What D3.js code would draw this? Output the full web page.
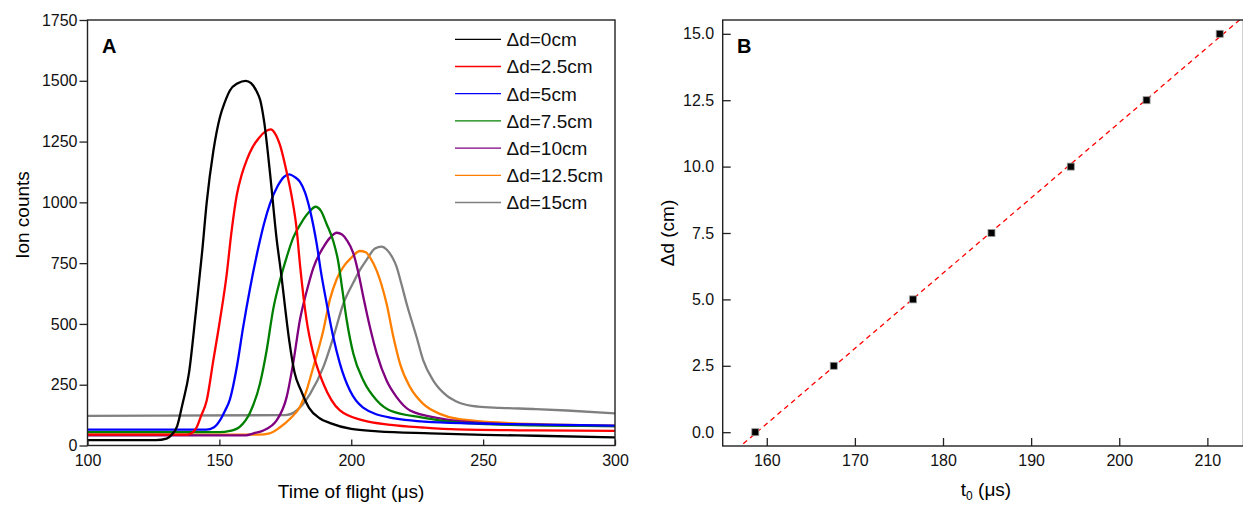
<!DOCTYPE html>
<html>
<head>
<meta charset="utf-8">
<script src="https://cdn.jsdelivr.net/npm/d3@7"></script>
<style>
  body { margin: 0; background: #fff; }
  svg { display: block; font-family: "Liberation Sans", Arial, sans-serif; }
  .tick text { fill: #111; }
</style>
</head>
<body>
<svg id="chart"></svg>
<script>
// chart window size
const width = 1243;
const height = 507;

// panel A: ion counts vs time of flight, one [t (us), counts] list per spacing
const seriesLabels = ['Δd=0cm', 'Δd=2.5cm', 'Δd=5cm', 'Δd=7.5cm', 'Δd=10cm', 'Δd=12.5cm', 'Δd=15cm'];
const seriesColors = ['#000000', '#ff0000', '#0000ff', '#008000', '#800080', '#ff8000', '#808080'];

const tof0 = [[100,22],[126,22],[130,28],[132,45],[134,80],[136,170],[138.5,300],[141,540],[143.5,800],[145.2,1000],[147.7,1210],[150.2,1350],[152,1410],[154,1460],[157,1490],[160,1500],[162,1490],[164.2,1455],[165.5,1420],[167,1330],[169.2,1120],[171.7,850],[173.5,700],[175,560],[176.5,430],[178.5,300],[181,225],[184,155],[188,112],[192,92],[200,68],[210,58],[230,50],[250,44],[270,40],[300,33]];
const tof25 = [[100,45],[138,45],[140,55],[141.4,75],[143,120],[145.2,185],[147.7,350],[150.2,514],[152.8,706],[154.5,870],[156.6,1030],[158.5,1115],[160.4,1175],[162.5,1225],[165,1265],[167.5,1292],[169.5,1300],[171,1285],[173,1235],[175.5,1125],[177.5,1020],[179.3,890],[180.6,740],[183,520],[185.6,378],[189.4,255],[195.7,144],[204.5,103],[215,85],[227,74],[240,66],[270,62],[300,60]];
const tof5 = [[100,65],[145,65],[148,75],[150.2,103],[152,140],[154,190],[156.6,322],[159,486],[161.6,645],[164.8,815],[167,915],[169.2,995],[172,1065],[174.5,1105],[176.5,1115],[178.5,1105],[180.5,1085],[182.5,1040],[184.4,966],[186.9,829],[188.5,715],[190.7,583],[193.2,445],[195.7,337],[199.5,226],[204.5,156],[214.7,115],[233.6,95],[260,88],[300,82]];
const tof75 = [[100,55],[150,55],[154,60],[157.8,78],[161.6,135],[165.4,255],[167.9,390],[170.4,560],[173,680],[175.5,774],[178,855],[181,915],[184,960],[186.5,982],[188.5,965],[190.7,910],[193.2,840],[195,760],[196.5,650],[198.3,514],[200.8,377],[204.6,267],[209.7,185],[214.7,144],[227,115],[240,95],[260,85],[300,80]];
const tof10 = [[100,42],[160,42],[163,50],[166.7,62],[171.7,103],[175.5,199],[178,340],[180.6,520],[183,630],[185.6,730],[189.4,815],[192,855],[194.5,875],[196.5,868],[198.3,845],[200.8,790],[202.5,720],[204.6,610],[207.1,486],[209.7,377],[213.4,267],[217.2,199],[222.3,144],[233.6,112],[250,92],[270,85],[300,80]];
const tof125 = [[100,45],[165,45],[169,50],[173,75],[176.8,110],[180.6,160],[183,225],[185.6,322],[189.4,473],[191.9,600],[194.5,685],[197,735],[200,772],[203.3,800],[205.5,795],[207.1,774],[209.6,720],[211.5,660],[213.4,583],[216,445],[218.5,336],[222.3,240],[227.3,171],[233.6,130],[240,110],[260,92],[300,82]];
const tof15 = [[100,122],[175,125],[179.3,144],[184.4,212],[189.4,322],[193.2,445],[197,583],[200.8,670],[203.3,722],[205.9,765],[209,810],[211.5,818],[213.5,805],[215.5,775],[217.2,735],[219,665],[221,583],[224.8,445],[227.3,350],[231.1,267],[236.2,205],[241.2,175],[248,160],[256.4,155],[270,150],[281.7,144],[300,132]];
const tofSeries = [tof0, tof25, tof5, tof75, tof10, tof125, tof15];

const tofTicks = [100, 150, 200, 250, 300];
const countTicks = [0, 250, 500, 750, 1000, 1250, 1500, 1750];

// panel B: peak arrival time t0 for every spacing
const deltaD = [0, 2.5, 5, 7.5, 10, 12.5, 15];
const t0Values = [158.7, 167.6, 176.6, 185.5, 194.5, 203.1, 211.4];
const t0Ticks = [160, 170, 180, 190, 200, 210];
const deltaTicks = [0, 2.5, 5, 7.5, 10, 12.5, 15];

const svg = d3.select('#chart')
  .attr('width', width)
  .attr('height', height);

// ---------- panel A ----------
const xA = d3.scaleLinear().domain([100, 300]).range([87.5, 615]);
const yA = d3.scaleLinear().domain([0, 1750]).range([445.5, 20]);

svg.append('clipPath').attr('id', 'clipA')
  .append('rect')
  .attr('x', xA.range()[0]).attr('y', yA.range()[1])
  .attr('width', xA.range()[1] - xA.range()[0])
  .attr('height', yA.range()[0] - yA.range()[1]);

const lineA = d3.line()
  .x(d => xA(d[0]))
  .y(d => yA(d[1]))
  .curve(d3.curveMonotoneX);

// last series drawn first, so the black trace stays on top
const gLines = svg.append('g').attr('clip-path', 'url(#clipA)');
for (let i = tofSeries.length - 1; i >= 0; i--) {
  gLines.append('path')
    .datum(tofSeries[i])
    .attr('d', lineA)
    .attr('fill', 'none')
    .attr('stroke', seriesColors[i])
    .attr('stroke-width', 2.3)
    .attr('stroke-linejoin', 'round');
}

svg.append('g')
  .attr('transform', `translate(0,${yA.range()[0]})`)
  .call(d3.axisBottom(xA).tickValues(tofTicks).tickSize(-6).tickPadding(9))
  .call(g => g.select('.domain').remove())
  .call(g => g.selectAll('text').attr('font-size', 16))
  .call(g => g.selectAll('line').attr('stroke', '#222').attr('stroke-width', 1.3));

svg.append('g')
  .attr('transform', `translate(${xA.range()[0]},0)`)
  .call(d3.axisLeft(yA).tickValues(countTicks).tickFormat(d3.format('d')).tickSize(8).tickPadding(2))
  .call(g => g.select('.domain').remove())
  .call(g => g.selectAll('text').attr('font-size', 16))
  .call(g => g.selectAll('line').attr('stroke', '#222').attr('stroke-width', 1.3));

svg.append('rect')
  .attr('x', xA.range()[0]).attr('y', yA.range()[1])
  .attr('width', xA.range()[1] - xA.range()[0])
  .attr('height', yA.range()[0] - yA.range()[1])
  .attr('fill', 'none')
  .attr('stroke', '#222')
  .attr('stroke-width', 1.4);

// legend, top right of panel A
const legend = svg.append('g');
seriesLabels.forEach((label, i) => {
  const y = 39.3 + i * 27.2;
  legend.append('line')
    .attr('x1', 455).attr('x2', 501)
    .attr('y1', y).attr('y2', y)
    .attr('stroke', seriesColors[i])
    .attr('stroke-width', 1.3);
  legend.append('text')
    .attr('x', 506.5).attr('y', y)
    .attr('dy', '0.36em')
    .attr('font-size', 19)
    .attr('fill', '#111')
    .text(label);
});

svg.append('text')
  .attr('x', 102).attr('y', 53)
  .attr('font-size', 20).attr('font-weight', 'bold')
  .text('A');

svg.append('text')
  .attr('x', 351).attr('y', 498)
  .attr('text-anchor', 'middle')
  .attr('font-size', 19)
  .text('Time of flight (μs)');

svg.append('text')
  .attr('transform', 'translate(29,215) rotate(-90)')
  .attr('text-anchor', 'middle')
  .attr('font-size', 19)
  .text('Ion counts');

// ---------- panel B ----------
const xB = d3.scaleLinear().domain([155, 214.1]).range([722.7, 1243.5]);
const yB = d3.scaleLinear().domain([-0.52, 15.52]).range([446, 20]);

svg.append('clipPath').attr('id', 'clipB')
  .append('rect')
  .attr('x', xB.range()[0]).attr('y', yB.range()[1])
  .attr('width', xB.range()[1] - xB.range()[0])
  .attr('height', yB.range()[0] - yB.range()[1]);

// least squares fit of deltaD against t0
const tMean = d3.mean(t0Values);
const dMean = d3.mean(deltaD);
const slope = d3.sum(t0Values, (t, i) => (t - tMean) * (deltaD[i] - dMean)) /
  d3.sum(t0Values, t => (t - tMean) * (t - tMean));
const intercept = dMean - slope * tMean;
const fitEnds = xB.domain().map(t => [t, slope * t + intercept]);

svg.append('path')
  .datum(fitEnds)
  .attr('clip-path', 'url(#clipB)')
  .attr('d', d3.line().x(d => xB(d[0])).y(d => yB(d[1])))
  .attr('fill', 'none')
  .attr('stroke', '#ff0000')
  .attr('stroke-width', 1.3)
  .attr('stroke-dasharray', '5,4');

svg.append('g')
  .selectAll('rect')
  .data(t0Values)
  .enter()
  .append('rect')
  .attr('x', d => xB(d) - 3.5)
  .attr('y', (d, i) => yB(deltaD[i]) - 3.5)
  .attr('width', 7).attr('height', 7)
  .attr('fill', '#000')
  .attr('stroke', '#999')
  .attr('stroke-width', 0.8);

svg.append('g')
  .attr('transform', `translate(0,${yB.range()[0]})`)
  .call(d3.axisBottom(xB).tickValues(t0Ticks).tickSize(-8).tickPadding(9))
  .call(g => g.select('.domain').remove())
  .call(g => g.selectAll('text').attr('font-size', 16))
  .call(g => g.selectAll('line').attr('stroke', '#222').attr('stroke-width', 1.3));

svg.append('g')
  .attr('transform', `translate(${xB.range()[0]},0)`)
  .call(d3.axisLeft(yB).tickValues(deltaTicks).tickFormat(d3.format('.1f')).tickSize(-8).tickPadding(8.5))
  .call(g => g.select('.domain').remove())
  .call(g => g.selectAll('text').attr('font-size', 16))
  .call(g => g.selectAll('line').attr('stroke', '#222').attr('stroke-width', 1.3));

svg.append('rect')
  .attr('x', xB.range()[0]).attr('y', yB.range()[1])
  .attr('width', xB.range()[1] - xB.range()[0])
  .attr('height', yB.range()[0] - yB.range()[1])
  .attr('fill', 'none')
  .attr('stroke', '#222')
  .attr('stroke-width', 1.4);

svg.append('text')
  .attr('x', 737).attr('y', 53)
  .attr('font-size', 20).attr('font-weight', 'bold')
  .text('B');

const xLabelB = svg.append('text')
  .attr('x', 986).attr('y', 496)
  .attr('text-anchor', 'middle')
  .attr('font-size', 19);
xLabelB.append('tspan').text('t');
xLabelB.append('tspan').attr('font-size', 12).attr('dy', 4).text('0');
xLabelB.append('tspan').attr('dy', -4).text(' (μs)');

svg.append('text')
  .attr('transform', 'translate(674,233) rotate(-90)')
  .attr('text-anchor', 'middle')
  .attr('font-size', 19)
  .text('Δd (cm)');
</script>
</body>
</html>
